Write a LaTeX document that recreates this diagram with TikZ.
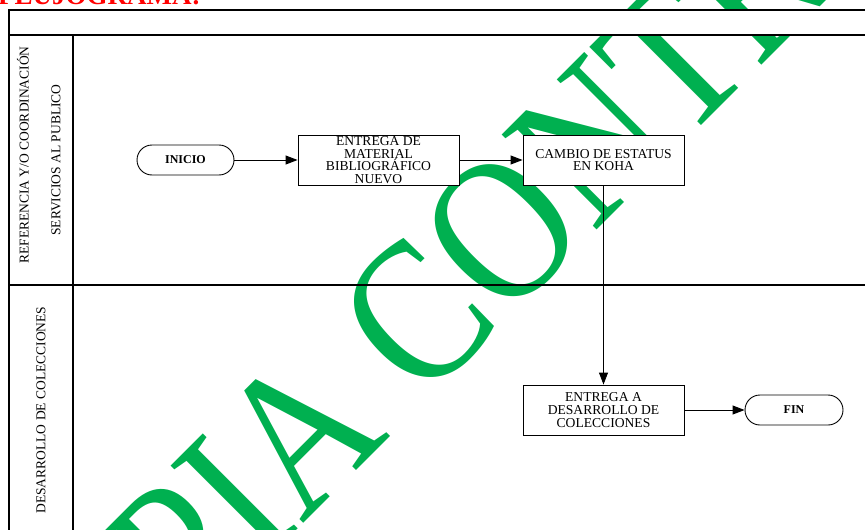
\documentclass[tikz,border=0pt]{standalone}
\usepackage{fontspec}
\setmainfont{Liberation Serif}
\usetikzlibrary{arrows.meta}
\definecolor{wmgreen}{RGB}{0,176,80}
\begin{document}
\begin{tikzpicture}[x=1pt,y=-1pt,
  procbox/.style={draw, fill=white, line width=0.9pt, minimum width=161pt, minimum height=50pt,
    inner sep=0pt, align=center, font=\fontsize{13.6}{12.7}\selectfont},
  terminal/.style={draw, fill=white, line width=0.9pt, rounded corners=15pt, minimum width=97pt,
    minimum height=30pt, inner sep=0pt, font=\bfseries\fontsize{12}{14}\selectfont},
  flow/.style={line width=0.9pt, -{Triangle[length=12pt,width=9pt]}},
  lane/.style={line width=1.3pt},
  lanelabel/.style={rotate=90, inner sep=0pt, font=\fontsize{13.5}{14}\selectfont}]
\clip (0,0) rectangle (865,530);

% watermark behind everything
\node[rotate=45, inner sep=0pt, text=wmgreen, font=\fontsize{205}{205}\selectfont] (wm)
  at (599,133) {\scalebox{0.85}[1]{COPIA CONTROLADA}};

% heading
\node[anchor=base west, inner sep=0pt, text=red, font=\bfseries\fontsize{27}{27}\selectfont] (title)
  at (-2,4.5) {FLUJOGRAMA:};

% swimlane frame
\fill[white] (9,10) rectangle (870,35);
\draw[lane] (9,540) -- (9,10) -- (870,10);
\draw[lane] (9,35) -- (870,35);
\draw[lane] (73,35) -- (73,540);
\draw[lane] (9,285) -- (870,285);

% lane titles
\node[lanelabel] (lane1a) at (23,155) {REFERENCIA Y/O COORDINACIÓN};
\node[lanelabel] (lane1b) at (56,160) {SERVICIOS AL PUBLICO};
\node[lanelabel] (lane2) at (41,410) {DESARROLLO DE COLECCIONES};

% process
\node[terminal] (inicio) at (185.5,160) {INICIO};
\node[procbox] (material) at (378.5,160) {ENTREGA DE\\MATERIAL\\BIBLIOGRÁFICO\\NUEVO};
\node[procbox] (koha) at (603.5,160) {CAMBIO DE ESTATUS\\EN KOHA};
\node[procbox] (colec) at (603.5,410) {ENTREGA A\\DESARROLLO DE\\COLECCIONES};
\node[terminal, minimum width=98pt] (fin) at (794,410) {FIN};

\draw[flow] (inicio) -- (material);
\draw[flow] (material) -- (koha);
\draw[flow] (koha) -- (colec);
\draw[flow] (colec) -- (fin);
\end{tikzpicture}
\end{document}
